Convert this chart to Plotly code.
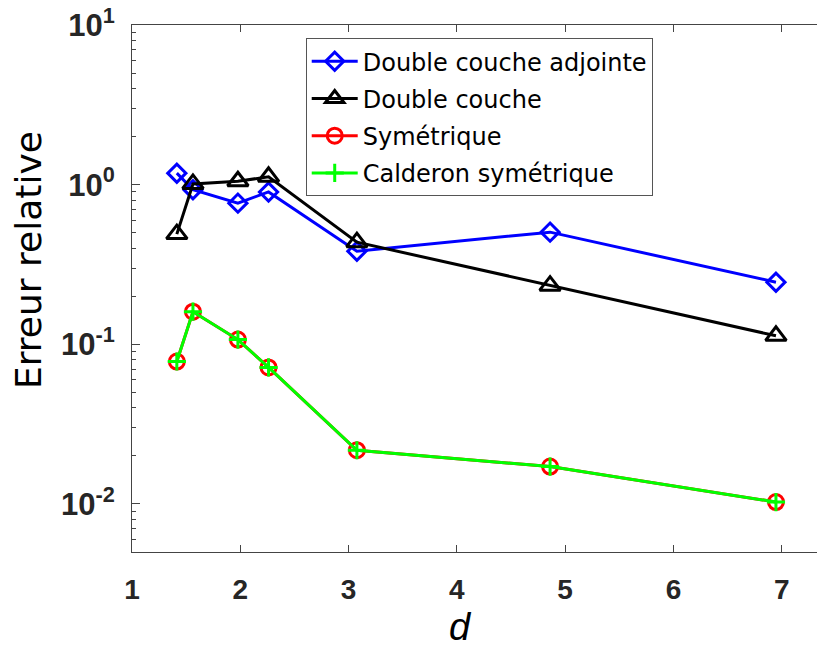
import plotly.graph_objects as go

d_vals = [1.414, 1.563, 1.978, 2.261, 3.077, 4.861, 6.947]
adjointe = [1.18, 0.93, 0.766, 0.90, 0.383, 0.504, 0.245]
double_couche = [0.49, 1.01, 1.05, 1.12, 0.436, 0.233, 0.113]
symetrique = [0.078, 0.16, 0.107, 0.0716, 0.0217, 0.01714, 0.01028]
calderon = [0.078, 0.16, 0.107, 0.0716, 0.0217, 0.01714, 0.01028]

names = ["Double couche adjointe", "Double couche", "Symétrique", "Calderon symétrique"]
series = [adjointe, double_couche, symetrique, calderon]
colors = ["#0000FF", "#000000", "#FF0000", "#00FF00"]
symbols = ["diamond-open", "triangle-up-open", "circle-open", "cross-thin-open"]
msizes = [14, 18, 15, 13]

y_tickvals = [0.01, 0.1, 1, 10]
y_ticktext = ["<b>10<sup>-2</sup></b>", "<b>10<sup>-1</sup></b>", "<b>10<sup>0</sup></b>", "<b>10<sup>1</sup></b>"]
x_tickvals = [1, 2, 3, 4, 5, 6, 7]
x_ticktext = ["<b>%d</b>" % v for v in x_tickvals]

minor_vals = [k * 10.0 ** e for e in range(-3, 1) for k in range(2, 10)]

fig = go.Figure()
for i in range(4):
    fig.add_trace(go.Scatter(
        x=d_vals, y=series[i], name=names[i], mode="lines+markers",
        line=dict(color=colors[i], width=3),
        marker=dict(symbol=symbols[i], size=msizes[i], color=colors[i],
                    line=dict(color=colors[i], width=3)),
        legendgroup="g%d" % i,
    ))

axis_color = "#444444"
fig.update_layout(
    width=817, height=648,
    margin=dict(l=132, r=0, t=25, b=96),
    paper_bgcolor="white", plot_bgcolor="white",
    showlegend=True,
    legend=dict(x=0.2536, y=0.975, xanchor="left", yanchor="top",
                font=dict(family="DejaVu Sans", size=24, color="#000000"),
                bgcolor="white", bordercolor="#555555", borderwidth=1,
                tracegroupgap=3, traceorder="grouped", itemwidth=46),
    xaxis=dict(range=[1, 7.326], tickvals=x_tickvals, ticktext=x_ticktext,
               showline=True, linecolor=axis_color, linewidth=1, mirror="ticks",
               ticks="inside", ticklen=7, tickcolor=axis_color, showgrid=False,
               zeroline=False, ticklabelstandoff=12,
               tickfont=dict(family="Liberation Sans", size=28, color="#262626")),
    yaxis=dict(type="log", range=[-2.30103, 1], tickvals=y_tickvals, ticktext=y_ticktext,
               showline=True, linecolor=axis_color, linewidth=1, mirror=False,
               ticks="inside", ticklen=8, tickcolor=axis_color, showgrid=False,
               zeroline=False, ticklabelstandoff=10,
               minor=dict(ticks="inside", ticklen=4, tickcolor=axis_color,
                          tickvals=minor_vals, showgrid=False),
               tickfont=dict(family="Liberation Sans", size=31, color="#262626")),
    annotations=[
        dict(text="Erreur relative", xref="paper", yref="paper", x=-0.1518, y=0.554,
             xanchor="center", yanchor="middle", textangle=-90, showarrow=False,
             font=dict(family="DejaVu Sans", size=36, color="#000000")),
        dict(text="<i>d</i>", xref="paper", yref="paper", x=0.480, y=-0.1423,
             xanchor="center", yanchor="middle", showarrow=False,
             font=dict(family="Liberation Sans", size=38, color="#000000")),
    ],
)

fig.write_html("out.html")
